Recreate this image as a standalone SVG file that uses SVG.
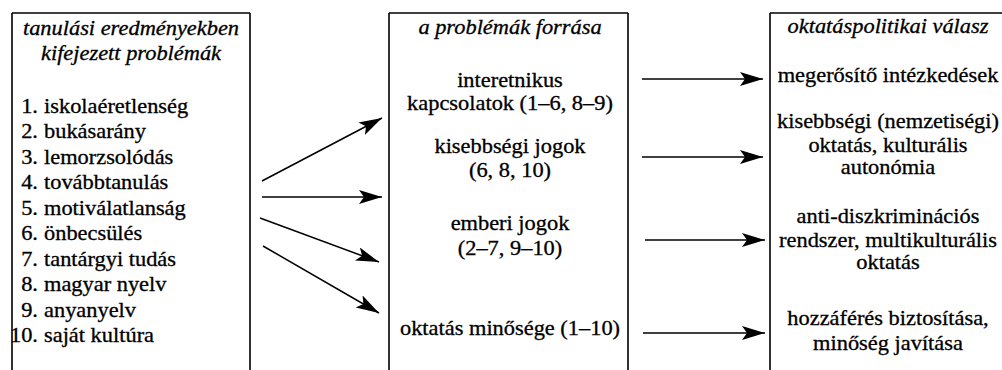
<svg xmlns="http://www.w3.org/2000/svg" width="1002" height="370" viewBox="0 0 1002 370">
<style>
.box{fill:none;stroke:#000;stroke-width:1.6}
.t{fill:#000;stroke:#000;stroke-width:0.3}
.i{font-style:italic}
.m{text-anchor:middle}
.e{text-anchor:end}
.conn line{stroke:#000;stroke-width:1.5;marker-end:url(#ah)}
</style>
<defs>
<marker id="ah" markerUnits="userSpaceOnUse" markerWidth="25" markerHeight="16" refX="23" refY="7" orient="auto">
<path d="M0,0 L23,7 L0,14 L5,7 Z" fill="#000"/>
</marker>
</defs>
<rect width="1002" height="370" fill="#fff"/>
<g id="problems">
<path class="box" d="M12,13 H250 M12,13 V370 M250,13 V370"/>
<g class="t" font-family="'Liberation Serif', 'Times New Roman', serif" font-size="20" transform="translate(131 0) scale(1.12 1)">
<text class="i m" x="0" y="35">tanulási eredményekben</text>
<text class="i m" x="0" y="60">kifejezett problémák</text>
</g>
<g class="t" font-family="'Liberation Serif', 'Times New Roman', serif" font-size="20" transform="scale(1.12 1)">
<text class="e" x="33.9" y="113">1.</text><text x="39.3" y="113">iskolaéretlenség</text>
<text class="e" x="33.9" y="138.5">2.</text><text x="39.3" y="138.5">bukásarány</text>
<text class="e" x="33.9" y="164">3.</text><text x="39.3" y="164">lemorzsolódás</text>
<text class="e" x="33.9" y="189.5">4.</text><text x="39.3" y="189.5">továbbtanulás</text>
<text class="e" x="33.9" y="215">5.</text><text x="39.3" y="215">motiválatlanság</text>
<text class="e" x="33.9" y="240.5">6.</text><text x="39.3" y="240.5">önbecsülés</text>
<text class="e" x="33.9" y="266">7.</text><text x="39.3" y="266">tantárgyi tudás</text>
<text class="e" x="33.9" y="291.5">8.</text><text x="39.3" y="291.5">magyar nyelv</text>
<text class="e" x="33.9" y="317">9.</text><text x="39.3" y="317">anyanyelv</text>
<text class="e" x="33.9" y="342.5">10.</text><text x="39.3" y="342.5">saját kultúra</text>
</g>
</g>
<g id="sources">
<path class="box" d="M389,13 H628 M389,13 V370 M628,13 V370"/>
<g class="t" font-family="'Liberation Serif', 'Times New Roman', serif" font-size="20" transform="translate(510 0) scale(1.12 1)">
<text class="i m" x="0" y="34">a problémák forrása</text>
<text class="m" x="0" y="87">interetnikus</text>
<text class="m" x="0" y="110">kapcsolatok (1–6, 8–9)</text>
<text class="m" x="0" y="153">kisebbségi jogok</text>
<text class="m" x="0" y="177">(6, 8, 10)</text>
<text class="m" x="0" y="230">emberi jogok</text>
<text class="m" x="0" y="255">(2–7, 9–10)</text>
<text class="m" x="0" y="335">oktatás minősége (1–10)</text>
</g>
</g>
<g id="responses">
<path class="box" d="M770,13 H1002 M770,13 V370"/>
<g class="t" font-family="'Liberation Serif', 'Times New Roman', serif" font-size="20" transform="translate(888 0) scale(1.12 1)">
<text class="i m" x="0" y="33">oktatáspolitikai válasz</text>
<text class="m" x="0" y="82">megerősítő intézkedések</text>
<text class="m" x="0" y="128">kisebbségi (nemzetiségi)</text>
<text class="m" x="0" y="152">oktatás, kulturális</text>
<text class="m" x="0" y="174">autonómia</text>
<text class="m" x="0" y="223">anti-diszkriminációs</text>
<text class="m" x="0" y="247">rendszer, multikulturális</text>
<text class="m" x="0" y="269">oktatás</text>
<text class="m" x="0" y="325">hozzáférés biztosítása,</text>
<text class="m" x="0" y="350">minőség javítása</text>
</g>
</g>
<g id="connectors" class="conn">
<line x1="262" y1="181" x2="382" y2="118"/>
<line x1="262" y1="197" x2="382" y2="197"/>
<line x1="260" y1="218" x2="379" y2="262"/>
<line x1="263" y1="246" x2="379" y2="313"/>
<line x1="642" y1="79" x2="763" y2="79"/>
<line x1="642" y1="157" x2="763" y2="157"/>
<line x1="645" y1="240" x2="765" y2="240"/>
<line x1="643" y1="333" x2="765" y2="333"/>
</g>
</svg>
